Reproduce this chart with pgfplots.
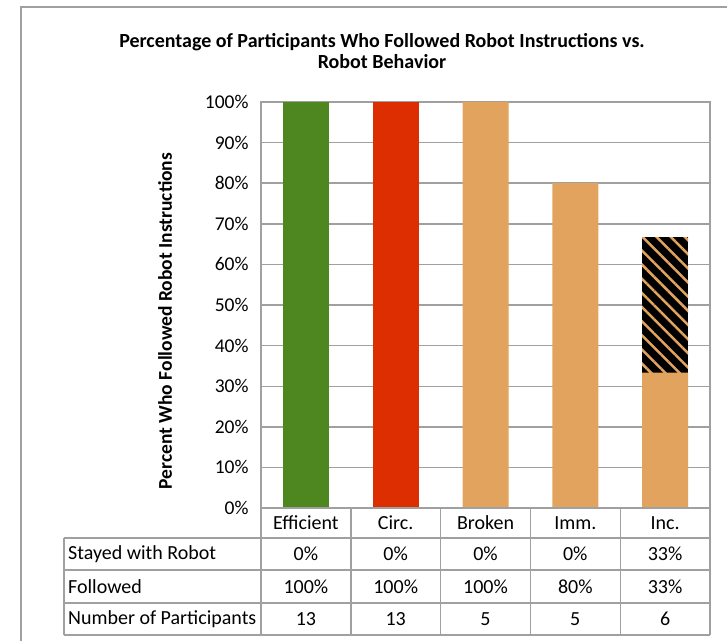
\documentclass[border=0pt]{standalone}
\usepackage{pgfplots}
\pgfplotsset{compat=1.18}
\usetikzlibrary{patterns.meta}
\usepackage{fontspec}
\setmainfont{Carlito}
\definecolor{cgreen}{RGB}{78,134,32}
\definecolor{cred}{RGB}{220,46,0}
\definecolor{corange}{RGB}{226,163,94}
\definecolor{cgrid}{RGB}{160,160,160}
\begin{document}
\begin{tikzpicture}[x=1pt,y=1pt]
\useasboundingbox (0,0) rectangle (727,641);
\draw[cgrid, line width=1.4pt] (21,0) -- (21,634) -- (727,634);
\begin{axis}[
 at={(261pt,133pt)}, anchor=south west, scale only axis, width=449pt, height=406pt,
 ybar stacked, bar width=46pt,
 xmin=-0.5, xmax=4.5, ymin=0, ymax=100,
 xtick=\empty, ytick={0,10,...,100},
 yticklabel={\pgfmathprintnumber{\tick}\%},
 /pgf/number format/assume math mode=true,
 yticklabel style={font=\fontsize{19.5}{22}\selectfont, xshift=-9pt},
 major tick length=0pt,
 ymajorgrids, grid style={cgrid, line width=1.4pt},
 axis line style={cgrid, line width=1.4pt},
 clip=false,
]
\addplot[fill=cgreen, draw=none] coordinates {(0,100) (1,0) (2,0) (3,0) (4,0)};
\addplot[fill=cred, draw=none] coordinates {(0,0) (1,100) (2,0) (3,0) (4,0)};
\addplot[fill=corange, draw=none] coordinates {(0,0) (1,0) (2,100) (3,80) (4,33.33)};
\addplot[fill=black, draw=none, postaction={pattern color=corange, pattern={Lines[angle=-45,distance=10pt,line width=2.5pt]}}] coordinates {(0,0) (1,0) (2,0) (3,0) (4,33.33)};
\end{axis}
% data table
\begin{scope}[cgrid, line width=1.4pt]
\draw (261,133) -- (710,133);
\foreach \y in {103,71,38,6} \draw (64,\y) -- (710,\y);
\draw (64,6) -- (64,103);
\foreach \x in {261,350.8,440.6,530.4,620.2,710} \draw (\x,6) -- (\x,133);
\end{scope}
\begin{scope}[every node/.style={font=\fontsize{20}{22}\selectfont, inner sep=0pt}]
\node at (305.9,118) {Efficient};
\node at (395.7,118) {Circ.};
\node at (485.5,118) {Broken};
\node at (575.3,118) {Imm.};
\node at (665.1,118) {Inc.};
\node[anchor=west] at (68,87) {Stayed with Robot};
\node[anchor=west] at (68,54.5) {Followed};
\node[anchor=west] at (68,22) {Number of Participants};
\node at (305.9,87) {0\%};
\node at (395.7,87) {0\%};
\node at (485.5,87) {0\%};
\node at (575.3,87) {0\%};
\node at (665.1,87) {33\%};
\node at (305.9,54.5) {100\%};
\node at (395.7,54.5) {100\%};
\node at (485.5,54.5) {100\%};
\node at (575.3,54.5) {80\%};
\node at (665.1,54.5) {33\%};
\node at (305.9,22) {13};
\node at (395.7,22) {13};
\node at (485.5,22) {5};
\node at (575.3,22) {5};
\node at (665.1,22) {6};
\end{scope}
\node[font=\fontsize{20}{21}\selectfont\bfseries, align=center] at (382,590) {Percentage of Participants Who Followed Robot Instructions vs.\\Robot Behavior};
\node[font=\fontsize{19.5}{22}\selectfont\bfseries, rotate=90] at (165,320) {Percent Who Followed Robot Instructions};
\end{tikzpicture}
\end{document}
